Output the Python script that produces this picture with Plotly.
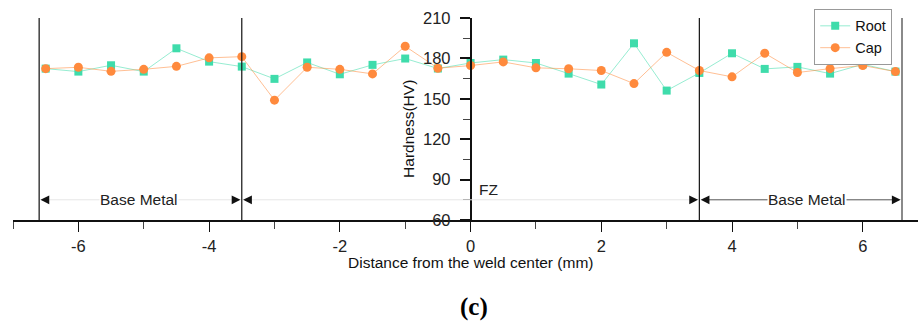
import plotly.graph_objects as go

# Data
distance = [-6.5, -6.0, -5.5, -5.0, -4.5, -4.0, -3.5, -3.0, -2.5, -2.0, -1.5, -1.0, -0.5,
            0.0, 0.5, 1.0, 1.5, 2.0, 2.5, 3.0, 3.5, 4.0, 4.5, 5.0, 5.5, 6.0, 6.5]
root = [172.4, 170.2, 174.9, 170.2, 187.5, 177.6, 173.9, 164.8, 177.0, 168.2, 175.2, 179.9, 172.5,
        176.6, 179.1, 176.6, 168.7, 160.6, 191.2, 156.1, 169.2, 183.8, 172.2, 173.7, 168.7, 175.6, 170.2]
cap = [172.4, 173.4, 170.4, 171.9, 174.1, 180.4, 181.3, 149.0, 173.4, 171.9, 168.5, 189.0, 172.7,
       174.7, 177.4, 173.0, 172.3, 171.0, 161.3, 184.5, 171.0, 166.3, 183.8, 169.5, 172.4, 174.7, 170.2]

boundaries = [-6.6, -3.5, 3.5, 6.6]
x_ticks = [-6, -4, -2, 0, 2, 4, 6]
y_ticks = [60, 90, 120, 150, 180, 210]
x_range = [-7, 6.845]
y_range = [60, 210]
zone_y = 75

GREEN = "#3fdcab"
ORANGE = "#ff8a3d"
FONT = "Liberation Sans, Arial, sans-serif"

fig = go.Figure()
fig.add_trace(go.Scatter(
    x=distance, y=root, name="Root", mode="lines+markers",
    line=dict(color="rgba(63,220,171,0.55)", width=1),
    marker=dict(symbol="square", size=8, color=GREEN),
))
fig.add_trace(go.Scatter(
    x=distance, y=cap, name="Cap", mode="lines+markers",
    line=dict(color="rgba(255,138,61,0.55)", width=1),
    marker=dict(symbol="circle", size=9, color=ORANGE),
))

# vertical zone boundaries
for i, bx in enumerate(boundaries):
    last = i == len(boundaries) - 1
    fig.add_shape(type="line", x0=bx, x1=bx, y0=y_range[0], y1=y_range[1],
                  xref="x", yref="y", layer="above",
                  line=dict(color="#8a8a8a" if last else "#111", width=2 if last else 1.2))

# zone dimension lines
fig.add_shape(type="line", x0=boundaries[0] + 0.12, x1=boundaries[1] - 0.12, y0=zone_y, y1=zone_y,
              xref="x", yref="y", line=dict(color="#e6e6e6", width=1))
fig.add_shape(type="line", x0=boundaries[1] + 0.12, x1=boundaries[2] - 0.12, y0=zone_y, y1=zone_y,
              xref="x", yref="y", line=dict(color="#e6e6e6", width=1))
fig.add_shape(type="line", x0=boundaries[2] + 0.12, x1=boundaries[3] - 0.12, y0=zone_y, y1=zone_y,
              xref="x", yref="y", line=dict(color="#555", width=1))

# arrow heads
heads = [(boundaries[0] + 0.02, 9), (boundaries[1] - 0.02, -9),
         (boundaries[1] + 0.02, 9), (boundaries[2] - 0.02, -9),
         (boundaries[2] + 0.02, 9), (boundaries[3] - 0.02, -9)]
for hx, off in heads:
    fig.add_annotation(x=hx, y=zone_y, xref="x", yref="y", ax=off, ay=0, text="",
                       showarrow=True, arrowhead=2, arrowsize=1.1, arrowwidth=1.6,
                       arrowcolor="#111")

# zone labels
fig.add_annotation(x=-5.08, y=zone_y, xref="x", yref="y", text="Base Metal", showarrow=False,
                   font=dict(family=FONT, size=15.5, color="#222"), bgcolor="white", borderpad=0)
fig.add_annotation(x=5.14, y=zone_y, xref="x", yref="y", text="Base Metal", showarrow=False,
                   font=dict(family=FONT, size=15.5, color="#222"), bgcolor="white", borderpad=0)
fig.add_annotation(x=0.1, y=83, xref="x", yref="y", text="FZ", showarrow=False, xanchor="left",
                   font=dict(family=FONT, size=15.5, color="#222"))

# axis titles
fig.add_annotation(x=0.0, y=-0.21, xref="x", yref="paper", text="Distance from the weld center (mm)",
                   showarrow=False, yanchor="middle",
                   font=dict(family=FONT, size=15.5, color="#111"))
fig.add_annotation(x=-0.95, y=128, xref="x", yref="y", text="Hardness(HV)", textangle=-90,
                   showarrow=False, font=dict(family=FONT, size=15.5, color="#111"))
fig.add_annotation(x=0.05, y=-0.43, xref="x", yref="paper", text="<b>(c)</b>", showarrow=False,
                   yanchor="middle",
                   font=dict(family="Liberation Serif, Times New Roman, serif", size=25, color="#000"))

ypos = (0 - x_range[0]) / (x_range[1] - x_range[0])

fig.update_layout(
    width=918, height=325,
    margin=dict(l=13, r=0, t=18, b=105),
    paper_bgcolor="white", plot_bgcolor="white",
    font=dict(family=FONT, color="#222"),
    showlegend=True,
    legend=dict(x=0.9715, y=1.045, xanchor="right", yanchor="top",
                bordercolor="#999", borderwidth=1, bgcolor="white",
                font=dict(family=FONT, size=14.5, color="#111"),
                tracegroupgap=0, itemwidth=30),
    xaxis=dict(range=x_range, showgrid=False, zeroline=False, showline=True,
               linecolor="#111", linewidth=1.5, ticks="outside", ticklen=10, tickwidth=1.2,
               tickcolor="#111", tickvals=x_ticks, ticktext=[str(v) for v in x_ticks],
               tickfont=dict(family=FONT, size=16.5, color="#222"),
               minor=dict(ticks="outside", ticklen=7, tickwidth=1.2, tickcolor="#444",
                          tickvals=[-7, -5, -3, -1, 1, 3, 5]),
               anchor="y"),
    yaxis=dict(range=y_range, showgrid=False, zeroline=False, showline=True,
               linecolor="#111", linewidth=1.5, ticks="outside", ticklen=10, tickwidth=1.5,
               tickcolor="#111", tickvals=y_ticks, ticktext=[str(v) for v in y_ticks],
               tickfont=dict(family=FONT, size=16.5, color="#222"),
               ticklabelstandoff=6,
               minor=dict(ticks="outside", ticklen=7, tickwidth=1.2, tickcolor="#444",
                          tickvals=[75, 105, 135, 165, 195]),
               anchor="free", position=ypos),
)

fig.write_html("out.html")
